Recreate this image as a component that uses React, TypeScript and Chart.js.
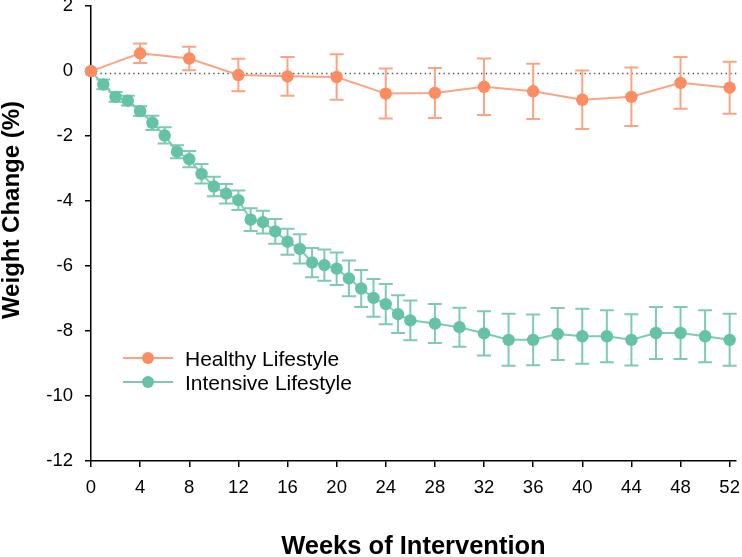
import React, { useEffect, useRef } from 'react';
import { Chart, registerables } from 'chart.js';

Chart.register(...registerables);

// ---- data ----
const xTickValues = [0, 4, 8, 12, 16, 20, 24, 28, 32, 36, 40, 44, 48, 52];
const yTickValues = [2, 0, -2, -4, -6, -8, -10, -12];

const healthyWeeks = [0, 4, 8, 12, 16, 20, 24, 28, 32, 36, 40, 44, 48, 52];
const healthyMean = [0, 0.55, 0.39, -0.12, -0.16, -0.18, -0.69, -0.67, -0.48, -0.62, -0.88, -0.79, -0.36, -0.51];
const healthySem = [0, 0.3, 0.36, 0.5, 0.6, 0.7, 0.77, 0.77, 0.87, 0.85, 0.9, 0.9, 0.8, 0.8];

const intensiveWeeks = [
  0, 1, 2, 3, 4, 5, 6, 7, 8, 9, 10, 11, 12, 13, 14, 15, 16, 17, 18, 19, 20, 21, 22, 23, 24, 25, 26,
  28, 30, 32, 34, 36, 38, 40, 42, 44, 46, 48, 50, 52,
];
const intensiveMean = [
  0, -0.41, -0.79, -0.91, -1.23, -1.59, -1.98, -2.48, -2.71, -3.16, -3.55, -3.77, -3.97, -4.57, -4.65,
  -4.93, -5.25, -5.47, -5.89, -5.97, -6.08, -6.38, -6.69, -6.98, -7.17, -7.48, -7.67,
  -7.77, -7.88, -8.07, -8.27, -8.27, -8.09, -8.16, -8.16, -8.27, -8.06, -8.06, -8.16, -8.27,
];
const intensiveSem = [
  0, 0.15, 0.15, 0.15, 0.15, 0.22, 0.25, 0.2, 0.25, 0.3, 0.3, 0.3, 0.3, 0.35, 0.35,
  0.38, 0.4, 0.45, 0.45, 0.48, 0.5, 0.55, 0.57, 0.58, 0.62, 0.58, 0.61,
  0.6, 0.6, 0.68, 0.8, 0.78, 0.8, 0.85, 0.8, 0.79, 0.8, 0.8, 0.8, 0.8,
];

const seriesNames = ['Healthy Lifestyle', 'Intensive Lifestyle'];
const referenceLine = -0.07;

// ---- styles ----
const FONT = '"Liberation Sans", Arial, Helvetica, sans-serif';
const ORANGE = '#FC8D62';
const ORANGE_LIGHT = '#FDA383';
const GREEN = '#66C2A5';
const GREEN_LIGHT = '#7DCCB2';
const POINT_R = 6.2;

const semBySeries = [healthySem, intensiveSem];
const weeksBySeries = [healthyWeeks, intensiveWeeks];
const meanBySeries = [healthyMean, intensiveMean];
const lightBySeries = [ORANGE_LIGHT, GREEN_LIGHT];
const solidBySeries = [ORANGE, GREEN];

const errorBarPlugin = {
  id: 'errorBars',
  beforeDatasetDraw(chart: any, args: any) {
    const i = args.index;
    const { ctx, scales } = chart;
    const xs = scales.x;
    const ys = scales.y;
    const weeks = weeksBySeries[i];
    const means = meanBySeries[i];
    const sems = semBySeries[i];
    ctx.save();
    ctx.strokeStyle = lightBySeries[i];
    ctx.lineWidth = 2;
    const cap = 7;
    for (let k = 0; k < weeks.length; k++) {
      if (!sems[k]) continue;
      const x = xs.getPixelForValue(weeks[k]);
      const yTop = ys.getPixelForValue(means[k] + sems[k]);
      const yBot = ys.getPixelForValue(means[k] - sems[k]);
      ctx.beginPath();
      ctx.moveTo(x, yTop);
      ctx.lineTo(x, yBot);
      ctx.moveTo(x - cap, yTop);
      ctx.lineTo(x + cap, yTop);
      ctx.moveTo(x - cap, yBot);
      ctx.lineTo(x + cap, yBot);
      ctx.stroke();
    }
    ctx.restore();
  },
};

const decorPlugin = {
  id: 'decor',
  beforeDatasetsDraw(chart: any) {
    const { ctx, scales, chartArea } = chart;
    const y = scales.y.getPixelForValue(referenceLine);
    ctx.save();
    ctx.strokeStyle = '#555';
    ctx.lineWidth = 1.4;
    ctx.setLineDash([1.4, 3.3]);
    ctx.beginPath();
    ctx.moveTo(chartArea.left, y);
    ctx.lineTo(chartArea.right + 2, y);
    ctx.stroke();
    ctx.restore();
  },
  afterDraw(chart: any) {
    const { ctx, chartArea } = chart;
    ctx.save();
    // legend
    const rows = [358, 382];
    for (let i = 0; i < 2; i++) {
      const ry = rows[i];
      ctx.strokeStyle = lightBySeries[i];
      ctx.lineWidth = 2;
      ctx.beginPath();
      ctx.moveTo(123, ry);
      ctx.lineTo(173, ry);
      ctx.stroke();
      ctx.fillStyle = solidBySeries[i];
      ctx.beginPath();
      ctx.arc(148, ry, 6, 0, Math.PI * 2);
      ctx.fill();
      ctx.fillStyle = '#000';
      ctx.font = `21px ${FONT}`;
      ctx.textAlign = 'left';
      ctx.textBaseline = 'alphabetic';
      ctx.fillText(seriesNames[i], 185, ry + 7.5);
    }
    // axis titles
    ctx.fillStyle = '#000';
    ctx.font = `bold 24px ${FONT}`;
    ctx.textAlign = 'center';
    ctx.textBaseline = 'middle';
    ctx.translate(12, 210);
    ctx.rotate(-Math.PI / 2);
    ctx.fillText('Weight Change (%)', 0, 0);
    ctx.setTransform(1, 0, 0, 1, 0, 0);
    ctx.font = `bold 25.5px ${FONT}`;
    ctx.textAlign = 'center';
    ctx.textBaseline = 'middle';
    ctx.fillText('Weeks of Intervention', (chartArea.left + chartArea.right) / 2, 547);
    ctx.restore();
  },
};

export default function App() {
  const ref = useRef<HTMLCanvasElement>(null);
  useEffect(() => {
    document.body.style.margin = '0';
    const canvas = ref.current!;
    const chart = new Chart(canvas, {
      type: 'line',
      data: {
        datasets: [
          {
            label: seriesNames[0],
            data: healthyWeeks.map((w, i) => ({ x: w, y: healthyMean[i] })),
            borderColor: ORANGE_LIGHT,
            backgroundColor: ORANGE,
            pointBackgroundColor: ORANGE,
            pointBorderColor: ORANGE,
            pointBorderWidth: 0,
            pointRadius: POINT_R,
            borderWidth: 2,
            clip: false,
          } as any,
          {
            label: seriesNames[1],
            data: intensiveWeeks.map((w, i) => ({ x: w, y: intensiveMean[i] })),
            borderColor: GREEN_LIGHT,
            backgroundColor: GREEN,
            pointBackgroundColor: GREEN,
            pointBorderColor: GREEN,
            pointBorderWidth: 0,
            pointRadius: POINT_R,
            borderWidth: 2,
            clip: false,
          } as any,
        ],
      },
      options: {
        animation: false,
        responsive: false,
        layout: { padding: { top: 6, right: 3, left: 0, bottom: 0 } },
        plugins: { legend: { display: false }, tooltip: { enabled: false } },
        scales: {
          x: {
            type: 'linear',
            min: 0,
            max: 52.5,
            afterBuildTicks: (s: any) => {
              s.ticks = xTickValues.map((v) => ({ value: v }));
            },
            afterFit: (s: any) => {
              s.height = 96;
              s.paddingLeft = 0;
              s.paddingRight = 0;
            },
            grid: { drawOnChartArea: false, drawTicks: true, tickLength: 6, color: '#000', lineWidth: 1.5 },
            border: { display: true, color: '#000', width: 1.5 },
            ticks: { color: '#000', font: { family: FONT, size: 18.5 }, padding: 10, maxRotation: 0, autoSkip: false },
          },
          y: {
            type: 'linear',
            min: -12,
            max: 2,
            afterBuildTicks: (s: any) => {
              s.ticks = yTickValues.map((v) => ({ value: v }));
            },
            afterFit: (s: any) => {
              s.width = 91;
              s.paddingTop = 0;
              s.paddingBottom = 0;
            },
            grid: { drawOnChartArea: false, drawTicks: true, tickLength: 6, color: '#000', lineWidth: 1.5 },
            border: { display: true, color: '#000', width: 1.5 },
            ticks: { color: '#000', font: { family: FONT, size: 18.5 }, padding: 12, autoSkip: false },
          },
        },
      } as any,
      plugins: [errorBarPlugin, decorPlugin],
    });
    return () => chart.destroy();
  }, []);
  return (
    <div style={{ width: 742, height: 557 }}>
      <canvas ref={ref} width={742} height={557} style={{ display: 'block' }} />
    </div>
  );
}
